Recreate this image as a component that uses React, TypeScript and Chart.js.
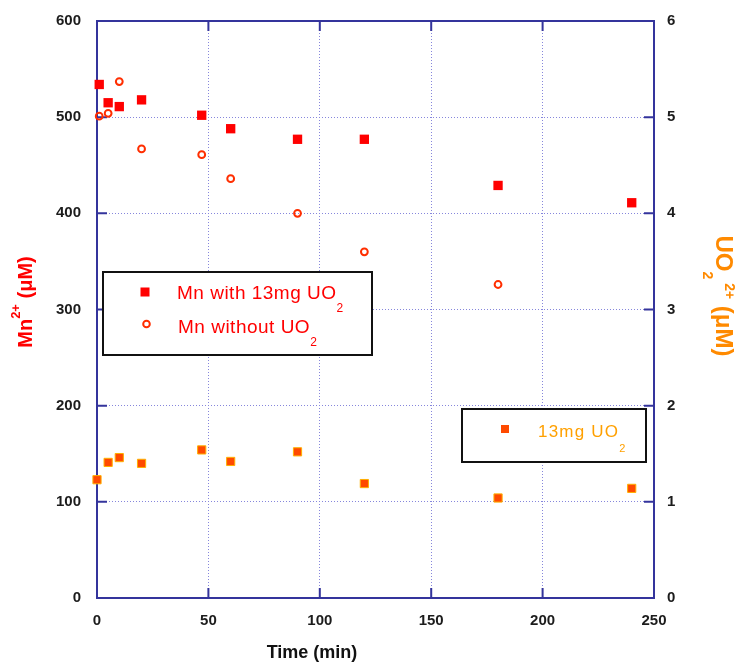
import React, { useEffect, useRef } from 'react';
import { Chart, registerables } from 'chart.js';

Chart.register(...registerables);

// ---- data ----
const mnWithTime = [1, 5, 10, 20, 47, 60, 90, 120, 180, 240];
const mnWithValues = [534, 515, 511, 518, 502, 488, 477, 477, 429, 411];
const mnWithoutTime = [1, 5, 10, 20, 47, 60, 90, 120, 180];
const mnWithoutValues = [501, 504, 537, 467, 461, 436, 400, 360, 326];
const uo2Time = [0, 5, 10, 20, 47, 60, 90, 120, 180, 240];
const uo2Values = [1.23, 1.41, 1.46, 1.4, 1.54, 1.42, 1.52, 1.19, 1.04, 1.14];
const xTicks = [0, 50, 100, 150, 200, 250];
const mnTicks = [0, 100, 200, 300, 400, 500, 600];
const uoTicks = [0, 1, 2, 3, 4, 5, 6];

const FAMILY = '"Liberation Sans", Arial, sans-serif';
const AXIS_COLOR = '#34349c';
const GRID_COLOR = '#8686dc';
const MN_RED = '#ff0000';
const CIRCLE_RED = '#ff2e00';
const UO_FILL = '#ff4a00';
const UO_BORDER = '#ffb000';
const TICK_COLOR = '#1c1c1c';

type Part = { t: string; size: number; dy?: number };

function drawRich(
  ctx: CanvasRenderingContext2D,
  parts: Part[],
  x: number,
  y: number,
  color: string,
  bold: boolean,
  align: 'left' | 'center',
  spacing = 0
) {
  const c: any = ctx;
  c.letterSpacing = `${spacing}px`;
  const fontOf = (p: Part) => `${bold ? 'bold ' : ''}${p.size}px ${FAMILY}`;
  const widths = parts.map((p) => {
    ctx.font = fontOf(p);
    return ctx.measureText(p.t).width;
  });
  const total = widths.reduce((a, b) => a + b, 0);
  let cx = align === 'center' ? x - total / 2 : x;
  ctx.fillStyle = color;
  ctx.textAlign = 'left';
  ctx.textBaseline = 'alphabetic';
  parts.forEach((p, i) => {
    ctx.font = fontOf(p);
    ctx.fillText(p.t, cx, y + (p.dy || 0));
    cx += widths[i];
  });
  c.letterSpacing = '0px';
}

const framePlugin = {
  id: 'frameAndAnnotations',
  beforeDatasetsDraw(chart: any) {
    const { ctx, chartArea: a, scales } = chart;
    ctx.save();
    ctx.strokeStyle = AXIS_COLOR;
    ctx.lineWidth = 2;
    ctx.strokeRect(a.left, a.top, a.right - a.left, a.bottom - a.top);
    ctx.beginPath();
    const tl = 10;
    xTicks.forEach((v) => {
      const px = scales.x.getPixelForValue(v);
      ctx.moveTo(px, a.bottom);
      ctx.lineTo(px, a.bottom - tl);
      ctx.moveTo(px, a.top);
      ctx.lineTo(px, a.top + tl);
    });
    mnTicks.forEach((v) => {
      const py = scales.y.getPixelForValue(v);
      ctx.moveTo(a.left, py);
      ctx.lineTo(a.left + tl, py);
    });
    uoTicks.forEach((v) => {
      const py = scales.y2.getPixelForValue(v);
      ctx.moveTo(a.right, py);
      ctx.lineTo(a.right - tl, py);
    });
    ctx.stroke();
    ctx.restore();
  },
  afterDatasetsDraw(chart: any) {
    const { ctx } = chart;
    ctx.save();

    // Left axis title: Mn2+ (µM)
    ctx.save();
    ctx.translate(32, 302);
    ctx.rotate(-Math.PI / 2);
    drawRich(
      ctx,
      [
        { t: 'Mn', size: 20 },
        { t: '2+', size: 13, dy: -12 },
        { t: ' (\u03bcM)', size: 20 },
      ],
      0,
      0,
      MN_RED,
      true,
      'center'
    );
    ctx.restore();

    // Right axis title: UO2 2+ (µM)
    ctx.save();
    ctx.translate(716, 296);
    ctx.rotate(Math.PI / 2);
    drawRich(
      ctx,
      [
        { t: 'UO', size: 24 },
        { t: '2', size: 14, dy: 13 },
        { t: ' 2+', size: 14, dy: -9 },
        { t: ' (\u03bcM)', size: 24 },
      ],
      0,
      0,
      '#ff8a00',
      true,
      'center'
    );
    ctx.restore();

    // X axis title
    drawRich(ctx, [{ t: 'Time (min)', size: 18 }], 312, 658, '#111111', true, 'center');

    // Legend 1
    ctx.fillStyle = '#ffffff';
    ctx.fillRect(103, 272, 269, 83);
    ctx.strokeStyle = '#111111';
    ctx.lineWidth = 2;
    ctx.strokeRect(103, 272, 269, 83);
    ctx.fillStyle = MN_RED;
    ctx.fillRect(145 - 4.5, 292 - 4.5, 9, 9);
    ctx.beginPath();
    ctx.arc(146.5, 324, 3.3, 0, Math.PI * 2);
    ctx.strokeStyle = CIRCLE_RED;
    ctx.lineWidth = 2;
    ctx.stroke();
    drawRich(
      ctx,
      [
        { t: 'Mn with 13mg UO', size: 19 },
        { t: '2', size: 12, dy: 13 },
      ],
      177,
      299,
      MN_RED,
      false,
      'left',
      0.5
    );
    drawRich(
      ctx,
      [
        { t: 'Mn without UO', size: 19 },
        { t: '2', size: 12, dy: 13 },
      ],
      178,
      333,
      MN_RED,
      false,
      'left',
      0.5
    );

    // Legend 2
    ctx.fillStyle = '#ffffff';
    ctx.fillRect(462, 409, 184, 53);
    ctx.strokeStyle = '#111111';
    ctx.lineWidth = 2;
    ctx.strokeRect(462, 409, 184, 53);
    ctx.fillStyle = UO_FILL;
    ctx.fillRect(505 - 4, 429 - 4, 8, 8);
    drawRich(
      ctx,
      [
        { t: '13mg UO', size: 17 },
        { t: '2', size: 11, dy: 15 },
      ],
      538,
      437,
      '#ffa000',
      false,
      'left',
      1.2
    );

    ctx.restore();
  },
};

export default function App() {
  const ref = useRef<HTMLCanvasElement | null>(null);

  useEffect(() => {
    if (!ref.current) return;
    const tickFont = { family: FAMILY, size: 15, weight: 'bold' as const };
    const chart = new Chart(ref.current, {
      type: 'scatter',
      data: {
        datasets: [
          {
            label: 'Mn with 13mg UO2',
            data: mnWithTime.map((t, i) => ({ x: t, y: mnWithValues[i] })),
            yAxisID: 'y',
            pointStyle: 'rect',
            pointRadius: 6.6,
            backgroundColor: MN_RED,
            borderColor: MN_RED,
            borderWidth: 0,
            clip: false as any,
          },
          {
            label: 'Mn without UO2',
            data: mnWithoutTime.map((t, i) => ({ x: t, y: mnWithoutValues[i] })),
            yAxisID: 'y',
            pointStyle: 'circle',
            pointRadius: 3.4,
            backgroundColor: 'rgba(255,255,255,0)',
            borderColor: CIRCLE_RED,
            borderWidth: 2,
            clip: false as any,
          },
          {
            label: '13mg UO2',
            data: uo2Time.map((t, i) => ({ x: t, y: uo2Values[i] })),
            yAxisID: 'y2',
            pointStyle: 'rect',
            pointRadius: 5.8,
            backgroundColor: UO_FILL,
            borderColor: UO_BORDER,
            borderWidth: 1,
            clip: false as any,
          },
        ],
      },
      options: {
        responsive: false,
        animation: false,
        layout: { padding: { top: 21, left: 0, right: 0, bottom: 0 } },
        plugins: {
          legend: { display: false },
          tooltip: { enabled: false },
        },
        scales: {
          x: {
            type: 'linear',
            min: 0,
            max: 250,
            afterBuildTicks: (s: any) => {
              s.ticks = xTicks.map((v) => ({ value: v }));
            },
            afterFit: (s: any) => {
              s.height = 64;
              s.paddingLeft = 0;
              s.paddingRight = 0;
            },
            grid: { color: GRID_COLOR, lineWidth: 1, drawTicks: false },
            border: { display: false, dash: [1, 2] },
            ticks: {
              padding: 14,
              color: TICK_COLOR,
              font: tickFont,
              maxRotation: 0,
              autoSkip: false,
            },
          },
          y: {
            type: 'linear',
            position: 'left',
            min: 0,
            max: 600,
            afterBuildTicks: (s: any) => {
              s.ticks = mnTicks.map((v) => ({ value: v }));
            },
            afterFit: (s: any) => {
              s.width = 97;
              s.paddingTop = 0;
              s.paddingBottom = 0;
            },
            grid: { color: GRID_COLOR, lineWidth: 1, drawTicks: false },
            border: { display: false, dash: [1, 2] },
            ticks: { padding: 16, color: TICK_COLOR, font: tickFont },
          },
          y2: {
            type: 'linear',
            position: 'right',
            min: 0,
            max: 6,
            afterBuildTicks: (s: any) => {
              s.ticks = uoTicks.map((v) => ({ value: v }));
            },
            afterFit: (s: any) => {
              s.width = 90;
              s.paddingTop = 0;
              s.paddingBottom = 0;
            },
            grid: { display: false, drawTicks: false },
            border: { display: false },
            ticks: { padding: 13, color: TICK_COLOR, font: tickFont },
          },
        },
      },
      plugins: [framePlugin],
    });
    return () => chart.destroy();
  }, []);

  return (
    <div style={{ position: 'fixed', left: 0, top: 0, width: 744, height: 662, background: '#ffffff' }}>
      <canvas ref={ref} width={744} height={662} style={{ display: 'block' }} />
    </div>
  );
}
